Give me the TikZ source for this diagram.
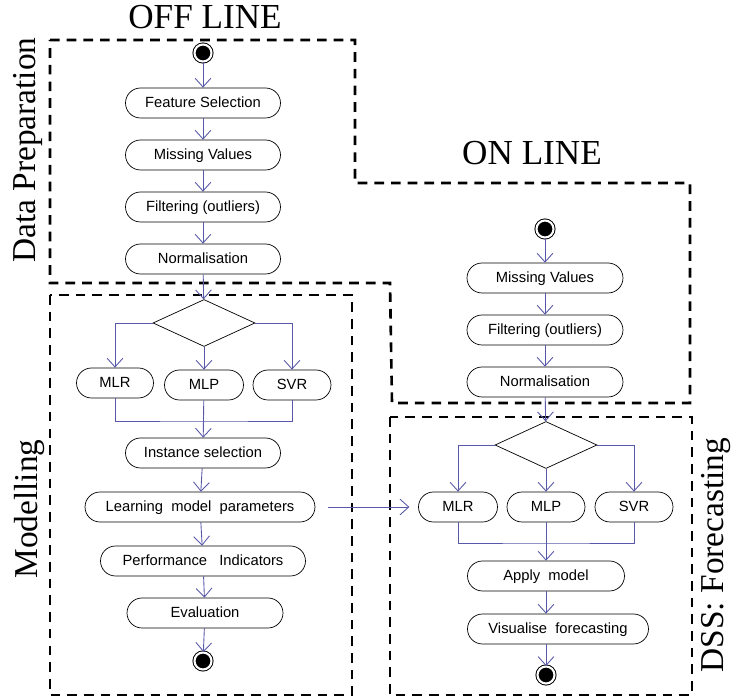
\documentclass[tikz,border=0pt]{standalone}
\usepackage{fontspec}
\setmainfont{Liberation Serif}
\setsansfont{Liberation Sans}
\usetikzlibrary{arrows.meta,shapes.geometric}
\definecolor{flowblue}{RGB}{88,88,168}

\begin{document}
\begin{tikzpicture}[x=0.02cm,y=-0.02cm,
	act/.style={draw, rectangle, rounded corners=0.3cm, minimum height=0.6cm, inner sep=1pt, text depth=0.5pt, font=\sffamily\fontsize{8.4}{10}\selectfont},
	choice/.style={draw, diamond, minimum width=2.04cm, minimum height=0.94cm, inner sep=0pt},
	bull/.style={circle, draw, fill=black, double=white, double distance=1.2pt, line width=0.55pt, minimum size=0.34cm, inner sep=0pt},
	flow/.style={draw=flowblue, line width=0.5pt, -{Straight Barb[length=5pt,width=9pt]}},
	wire/.style={draw=flowblue, line width=0.5pt},
	zone/.style={line width=1.5pt, dash pattern=on 5.5pt off 4pt},
	title/.style={font=\fontsize{20}{24}\selectfont},
	side/.style={font=\fontsize{19}{22}\selectfont, rotate=90}]
		\useasboundingbox (0,0) rectangle (735,699);
		%%%%% ZONES %%%%%
		\draw[zone] (50,40) -- (355,40) -- (355,183) -- (690,183) -- (690,403) -- (392,403) -- (390,283) -- (50,283) -- cycle;
		\draw[zone] (50,295) rectangle (352,695);
		\draw[zone] (390,417) rectangle (692,695);
		
		\node[title] (offline) at (205,17) {OFF LINE};
		\node[title] (online) at (532,153) {ON LINE};
		\node[side] (dataprep) at (28,150) {Data Preparation};
		\node[side] (modelling) at (30,509) {Modelling};
		\node[side] (dss) at (716,555) {DSS: Forecasting};
		
		%%%%% OFF LINE %%%%%
		\node[bull] (start) at (203,53) {};
		\node[act, minimum width=3.1cm] (fsel) at (203,103) {Feature Selection};
		\node[act, minimum width=3.1cm] (miss) at (203,155) {Missing Values};
		\node[act, minimum width=3.1cm] (filt) at (203,207) {Filtering (outliers)};
		\node[act, minimum width=3.1cm] (norm) at (203,259) {Normalisation};
		\node[choice] (dec) at (204,323) {};
		\node[act, minimum width=1.54cm] (mlr) at (115,383) {MLR};
		\node[act, minimum width=1.58cm] (mlp) at (204,385) {MLP};
		\node[act, minimum width=1.56cm] (svr) at (292,385) {SVR};
		\coordinate (join) at (204,421);
		\node[act, minimum width=3.1cm] (inst) at (203,453) {Instance selection};
		\node[act, minimum width=4.6cm] (learn) at (200,507) {Learning~ model~ parameters};
		\node[act, minimum width=4.1cm] (perf) at (203,561) {Performance~~ Indicators};
		\node[act, minimum width=3.12cm] (eval) at (205,613) {Evaluation};
		\node[bull] (stop) at (203,661) {};
		
		\draw[flow] (start) -- (fsel);
		\draw[flow] (fsel) -- (miss);
		\draw[flow] (miss) -- (filt);
		\draw[flow] (filt) -- (norm);
		\draw[flow] (norm) -- (dec);
		\draw[flow] (dec.west) -| (mlr);
		\draw[flow] (dec) -- (mlp);
		\draw[flow] (dec.east) -| (svr);
		\draw[wire] (mlr.south) |- (join) -| (svr.south);
		\draw[flow] (mlp) -- (inst);
		\draw[flow] (inst) -- (learn);
		\draw[flow] (learn) -- (perf);
		\draw[flow] (perf) -- (eval);
		\draw[flow] (eval) -- (stop);
		
		%%%%% ON LINE %%%%%
		\node[bull] (ostart) at (545,229) {};
		\node[act, minimum width=3.12cm] (omiss) at (545,278) {Missing Values};
		\node[act, minimum width=3.12cm] (ofilt) at (545,330) {Filtering (outliers)};
		\node[act, minimum width=3.12cm] (onorm) at (545,382) {Normalisation};
		\node[choice] (odec) at (546,445) {};
		\node[act, minimum width=1.58cm] (omlr) at (458,507) {MLR};
		\node[act, minimum width=1.56cm] (omlp) at (546,507) {MLP};
		\node[act, minimum width=1.56cm] (osvr) at (634,507) {SVR};
		\coordinate (ojoin) at (546,543);
		\node[act, minimum width=3.14cm] (apply) at (546,576) {Apply~ model};
		\node[act, minimum width=3.62cm] (vis) at (558,629) {Visualise~ forecasting};
		\node[bull] (ostop) at (546,675) {};
		
		\draw[flow] (ostart) -- (omiss);
		\draw[flow] (omiss) -- (ofilt);
		\draw[flow] (ofilt) -- (onorm);
		\draw[flow] (onorm) -- (odec);
		\draw[flow] (odec.west) -| (omlr);
		\draw[flow] (odec) -- (omlp);
		\draw[flow] (odec.east) -| (osvr);
		\draw[wire] (omlr.south) |- (ojoin) -| (osvr.south);
		\draw[flow] (omlp) -- (apply);
		\draw[flow] (apply) -- (vis.north -| apply);
		\draw[flow] (vis.south -| ostop) -- (ostop);
		
		\draw[flow, shorten <=7pt, shorten >=5pt] (learn) -- (omlr);
	\end{tikzpicture}
\end{document}
